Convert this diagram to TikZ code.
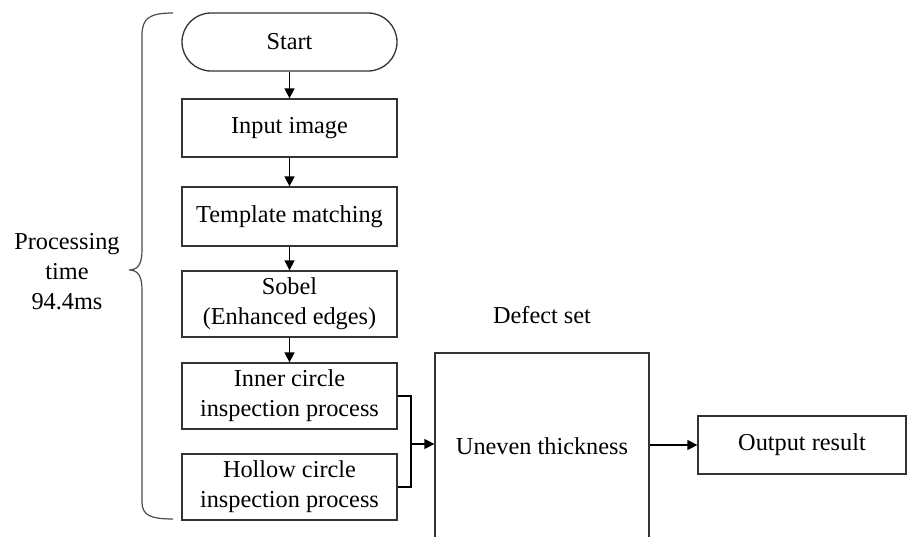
\documentclass[tikz,border=0pt]{standalone}
\usepackage{fontspec}
\setmainfont{Liberation Serif}
\usetikzlibrary{arrows.meta}
\begin{document}
\begin{tikzpicture}[x=1pt,y=-1pt,
  every node/.style={font=\fontsize{24.3}{30}\selectfont},
  box/.style={draw=black!80, line width=1.3pt, rectangle, minimum width=215pt,
    inner sep=0pt, align=center},
  terminal/.style={box, rounded corners=29pt},
  flow/.style={draw=black, line width=1.5pt, -{Triangle[length=10pt,width=10pt]}},
  link/.style={draw=black, line width=1.5pt}]
\useasboundingbox (0,0) rectangle (907,536);

% main column
\node[terminal, minimum height=58pt] (start) at (289.5,42) {Start};
\node[box, minimum height=58pt] (input) at (289.5,128) {Input image};
\node[box, minimum height=59pt] (tmpl) at (289.5,216.5) {Template matching};
\node[box, minimum height=66pt] (sobel) at (289.5,304) {Sobel\\(Enhanced edges)};
\node[box, minimum height=66pt] (inner) at (289.5,396) {Inner circle\\inspection process};
\node[box, minimum height=66pt] (hollow) at (289.5,487) {Hollow circle\\inspection process};

% defect set and output
\node[box, minimum width=214pt, minimum height=187pt] (defect) at (542,446.5) {Uneven thickness};
\node (dlabel) at (542,315) {Defect set};
\node[box, minimum width=208pt, minimum height=58pt] (out) at (802,445) {Output result};

% timing annotation
\node[align=center] (ptime) at (67,272) {Processing\\time\\94.4ms};
\draw[draw=black!70, line width=1.2pt]
  (173,13) .. controls (150,13) and (142,18) .. (142,35)
  -- (142,250) .. controls (142,264) and (138,270) .. (129,270)
  .. controls (138,270) and (142,276) .. (142,290)
  -- (142,502) .. controls (142,515) and (150,519) .. (173,519);

% connectors
\draw[flow] (start) -- (input);
\draw[flow] (input) -- (tmpl);
\draw[flow] (tmpl) -- (sobel);
\draw[flow] (sobel) -- (inner);
\coordinate (join) at (411,444);
\draw[link] (inner.east) -| (join) |- (hollow.east);
\draw[flow] (join) -- (join -| defect.west);
\draw[flow] (defect.east |- out.west) -- (out.west);
\end{tikzpicture}
\end{document}
